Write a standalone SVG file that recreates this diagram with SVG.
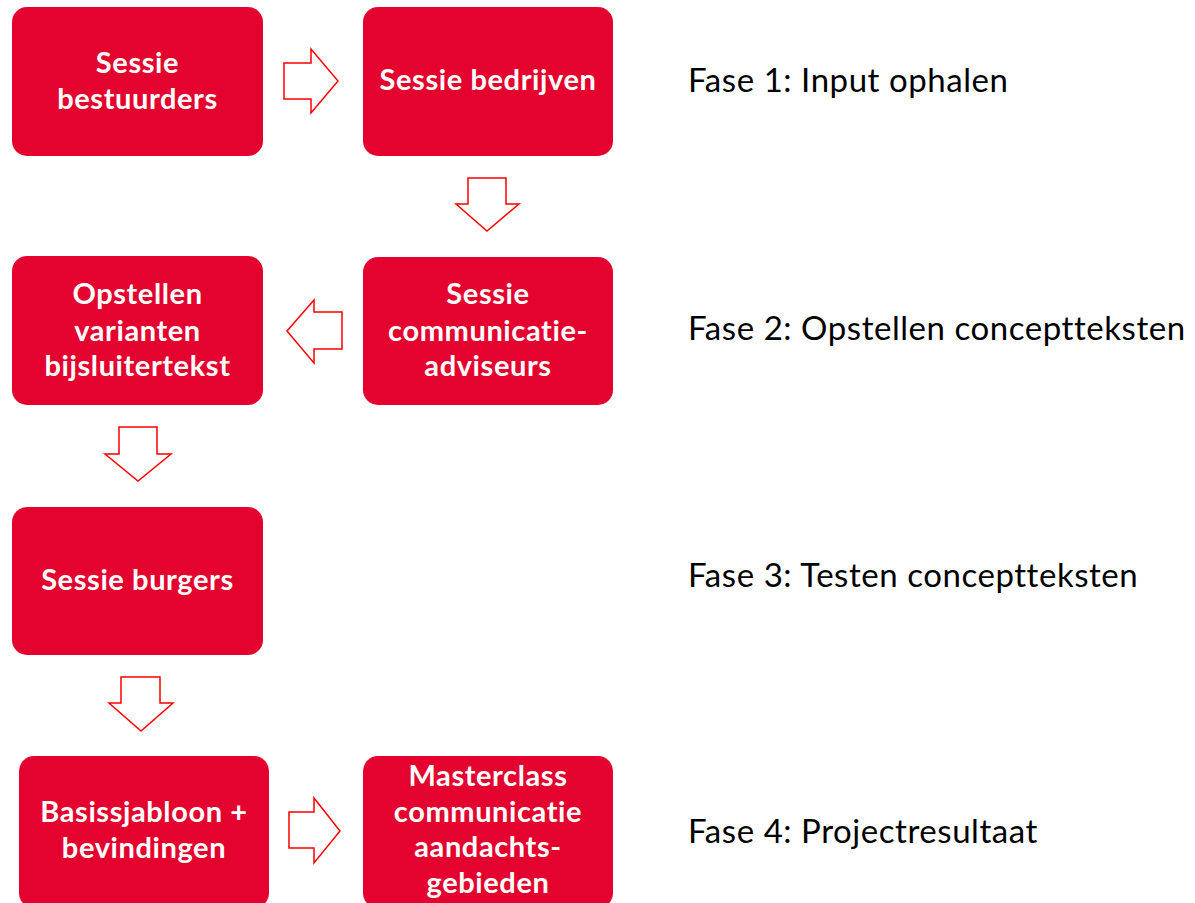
<svg xmlns="http://www.w3.org/2000/svg" width="1195" height="903" viewBox="0 0 1195 903">
<style>
.box{fill:#E4032E}
.bt{font-family:Lato,"Open Sans","Liberation Sans",sans-serif;font-weight:bold;font-size:29px;letter-spacing:0.6px;fill:#fff;text-anchor:middle}
.ph{font-family:Lato,"Open Sans","Liberation Sans",sans-serif;font-size:33px;letter-spacing:0.55px;fill:#000}
.arr{fill:#fff;stroke:#FF0000;stroke-width:1.5;stroke-linejoin:miter}
</style>
<rect width="1195" height="903" fill="#fff"/>
<g id="n1"><rect class="box" x="12" y="7" width="251" height="149" rx="15"/>
<text class="bt" x="137.5" y="73">Sessie</text><text class="bt" x="137.5" y="109">bestuurders</text></g>
<g id="n2"><rect class="box" x="363" y="7" width="250" height="149" rx="15"/>
<text class="bt" x="488" y="90">Sessie bedrijven</text></g>
<g id="n3"><rect class="box" x="363" y="257" width="250" height="148" rx="15"/>
<text class="bt" x="488" y="304">Sessie</text><text class="bt" x="488" y="341">communicatie-</text><text class="bt" x="488" y="376">adviseurs</text></g>
<g id="n4"><rect class="box" x="12" y="256" width="251" height="149" rx="15"/>
<text class="bt" x="137.5" y="304">Opstellen</text><text class="bt" x="137.5" y="341">varianten</text><text class="bt" x="137.5" y="376">bijsluitertekst</text></g>
<g id="n5"><rect class="box" x="12" y="507" width="251" height="148" rx="15"/>
<text class="bt" x="137.5" y="590">Sessie burgers</text></g>
<g id="n6"><rect class="box" x="19" y="756" width="250" height="152" rx="15"/>
<text class="bt" x="144" y="822">Basissjabloon +</text><text class="bt" x="144" y="858">bevindingen</text></g>
<g id="n7"><rect class="box" x="363" y="756" width="250" height="152" rx="15"/>
<text class="bt" x="488" y="786">Masterclass</text><text class="bt" x="488" y="822">communicatie</text><text class="bt" x="488" y="857">aandachts-</text><text class="bt" x="488" y="893">gebieden</text></g>
<g id="labels">
<text class="ph" x="688" y="92">Fase 1: Input ophalen</text>
<text class="ph" x="688" y="340">Fase 2: Opstellen conceptteksten</text>
<text class="ph" x="688" y="587">Fase 3: Testen conceptteksten</text>
<text class="ph" x="688" y="843">Fase 4: Projectresultaat</text>
</g>
<g id="connectors">
<path class="arr" d="M284,63 H311 V49 L338,81 L311,113 V99 H284 Z"/>
<path class="arr" d="M468,178 H506 V204 H519 L487,231 L456,204 H468 Z"/>
<path class="arr" d="M342,312 H314 V300 L287,331 L314,363 V349 H342 Z"/>
<path class="arr" d="M119,427 H157 V454 H171 L138,481 L105,454 H119 Z"/>
<path class="arr" d="M121,677 H160 V703 H173 L141,731 L109,703 H121 Z"/>
<path class="arr" d="M289,812 H314 V798 L340,831 L314,863 V848 H289 Z"/>
</g>
</svg>
